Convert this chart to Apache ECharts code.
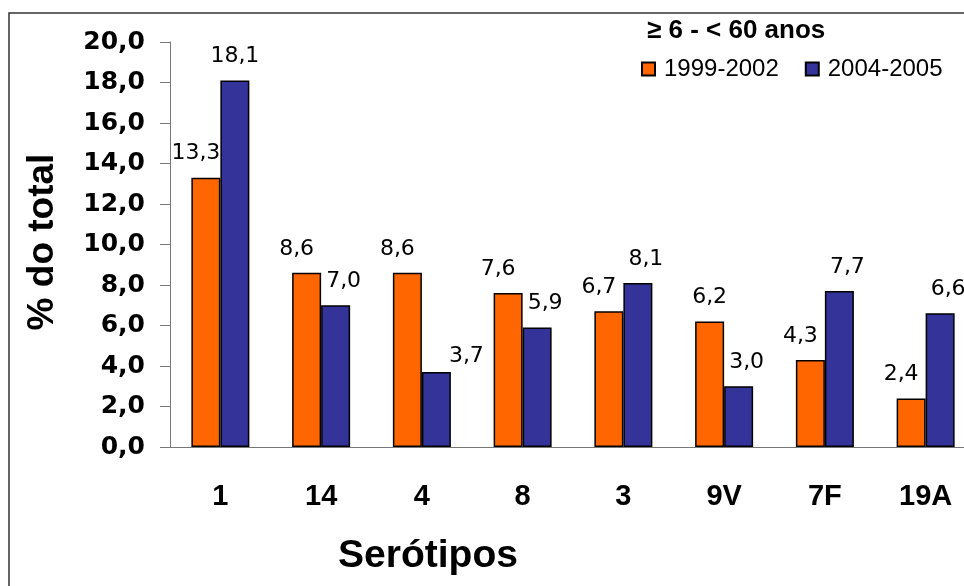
<!DOCTYPE html>
<html>
<head>
<meta charset="utf-8">
<script src="https://cdn.jsdelivr.net/npm/echarts@6/dist/echarts.min.js"></script>
<style>
  html, body { margin: 0; padding: 0; background: #ffffff; overflow: hidden; }
  #chart { width: 1000px; height: 586px; }
</style>
</head>
<body>
<div id="chart"></div>
<script>
// Serotype shares (% of total) for the two surveillance periods
const serotypes = ['1', '14', '4', '8', '3', '9V', '7F', '19A'];
const periodA = '1999-2002';
const periodB = '2004-2005';
const valuesA = [13.3, 8.6, 8.6, 7.6, 6.7, 6.2, 4.3, 2.4];
const valuesB = [18.1, 7.0, 3.7, 5.9, 8.1, 3.0, 7.7, 6.6];
const groupTitle = '\u2265 6 - < 60 anos';
const xTitle = 'Serótipos';
const yTitle = '% do total';

const fmt = v => v.toFixed(1).replace('.', ',');

const ARIAL = '"Liberation Sans", Arial, sans-serif';
const WIDE = '"DejaVu Sans", sans-serif';

// value labels sit a little to the outer side of each pair of bars
function withLabels(values, dx, special) {
  return values.map((v, i) => ({
    value: v,
    label: { offset: special[i] || [dx, 0] }
  }));
}

const chart = echarts.init(document.getElementById('chart'), null, { renderer: 'canvas' });

chart.setOption({
  animation: false,
  backgroundColor: '#ffffff',
  grid: { left: 170, top: 42, width: 806, height: 405, containLabel: false },
  legend: {
    data: [periodA, periodB],
    left: 636,
    top: 52,
    icon: 'rect',
    itemWidth: 13,
    itemHeight: 13,
    itemGap: 26,
    textStyle: { fontFamily: ARIAL, fontSize: 24, color: '#000', padding: [0, 0, 0, 4] }
  },
  xAxis: {
    type: 'category',
    data: serotypes,
    axisLine: { lineStyle: { color: '#777', width: 1 } },
    axisTick: { length: 8, lineStyle: { color: '#777', width: 1 } },
    axisLabel: { margin: 35, color: '#000', fontFamily: ARIAL, fontWeight: 'bold', fontSize: 29 }
  },
  yAxis: {
    type: 'value',
    min: 0,
    max: 20,
    interval: 2,
    splitLine: { show: false },
    axisLine: { show: true, lineStyle: { color: '#777', width: 1 } },
    axisTick: { show: true, length: 10, lineStyle: { color: '#777', width: 1 } },
    axisLabel: { margin: 25, color: '#000', fontFamily: WIDE, fontWeight: 'bold', fontSize: 25, formatter: fmt }
  },
  series: [
    {
      name: periodA,
      type: 'bar',
      barWidth: 29,
      barGap: '0%',
      itemStyle: { color: '#FF6600', borderColor: '#000', borderWidth: 1.5 },
      label: {
        show: true, position: 'top', distance: 13, color: '#000',
        fontFamily: WIDE, fontSize: 22, formatter: p => fmt(p.value)
      },
      data: withLabels(valuesA, -10, { 5: [0, 0] })
    },
    {
      name: periodB,
      type: 'bar',
      barWidth: 29,
      itemStyle: { color: '#333399', borderColor: '#000', borderWidth: 1.5 },
      label: {
        show: true, position: 'top', distance: 13, color: '#000',
        fontFamily: WIDE, fontSize: 22, formatter: p => fmt(p.value)
      },
      data: withLabels(valuesB, 8, { 0: [0, 0], 2: [30, 8] })
    }
  ],
  graphic: [
    {
      type: 'rect', silent: true, z: 0,
      shape: { x: 9, y: 13, width: 1200, height: 1000 },
      style: { fill: 'none', stroke: '#333', lineWidth: 1.5 }
    },
    {
      type: 'text', x: 647, y: 31, silent: true,
      style: { text: groupTitle, fill: '#000', fontFamily: ARIAL, fontWeight: 'bold', fontSize: 26, align: 'left', verticalAlign: 'middle' }
    },
    {
      type: 'text', x: 428, y: 556, silent: true,
      style: { text: xTitle, fill: '#000', fontFamily: ARIAL, fontWeight: 'bold', fontSize: 39, align: 'center', verticalAlign: 'middle' }
    },
    {
      type: 'text', x: 43, y: 242, rotation: Math.PI / 2, silent: true,
      style: { text: yTitle, fill: '#000', fontFamily: ARIAL, fontWeight: 'bold', fontSize: 37, align: 'center', verticalAlign: 'middle' }
    }
  ]
});
</script>
</body>
</html>
